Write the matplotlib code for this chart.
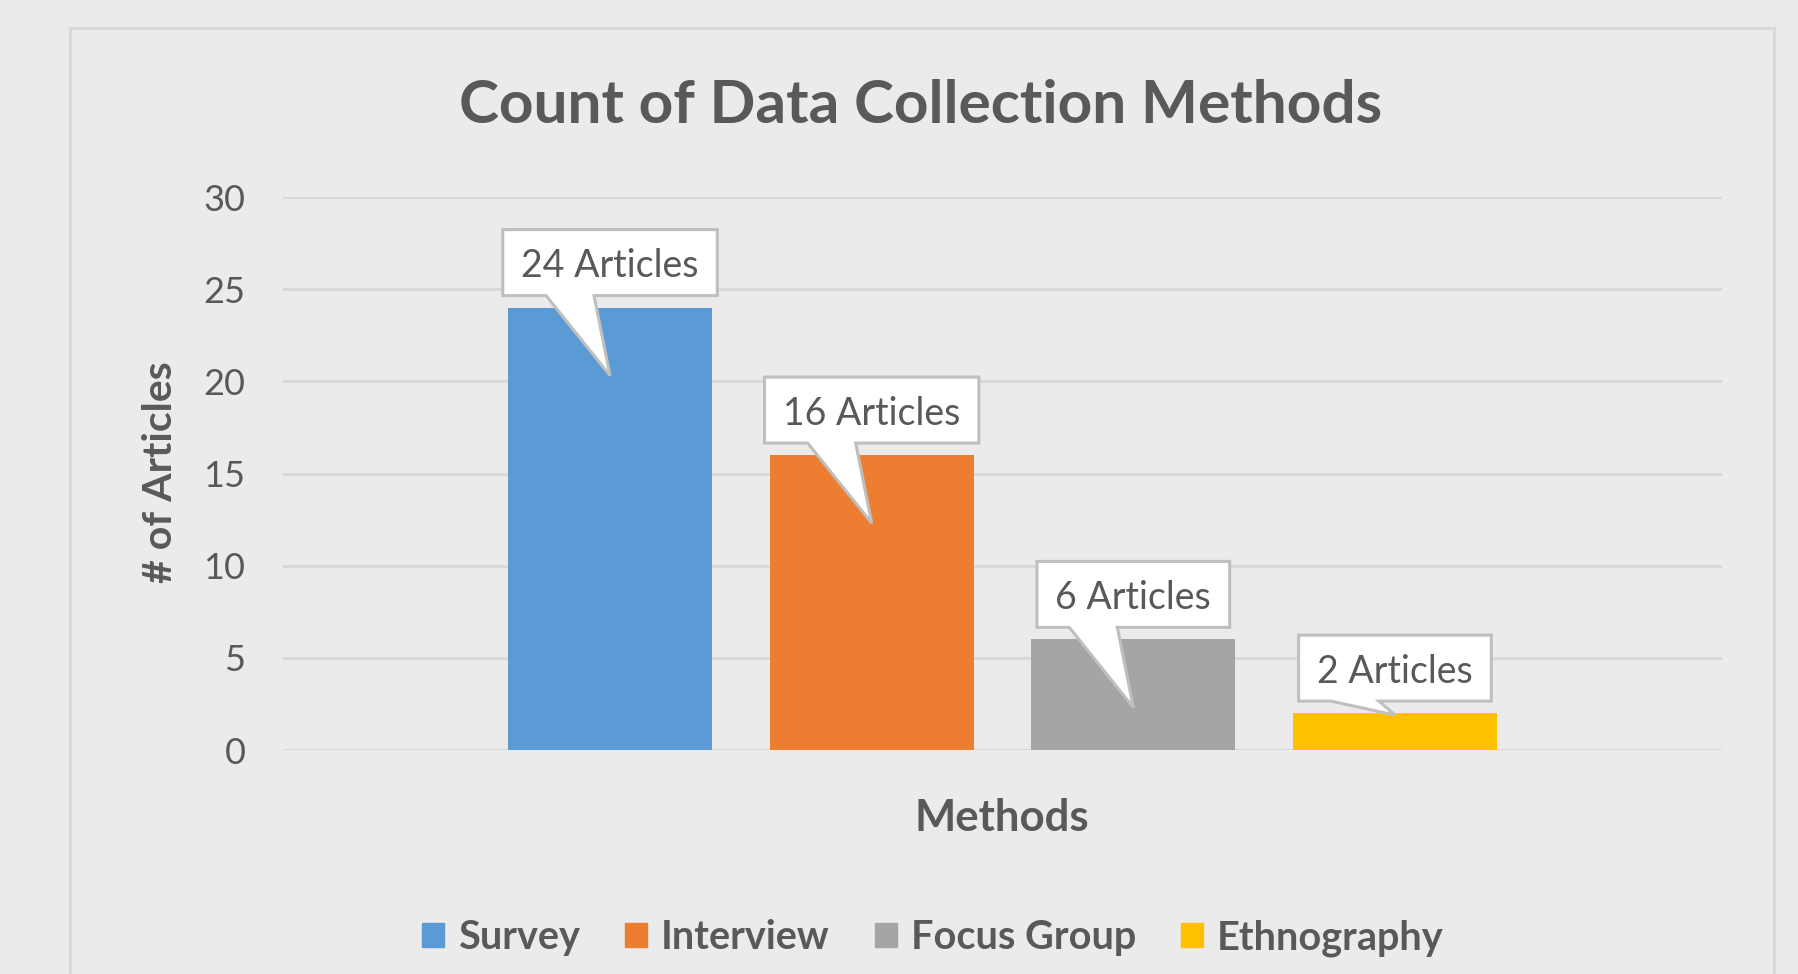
import matplotlib
matplotlib.use("Agg")
import matplotlib.pyplot as plt
from matplotlib.patches import Rectangle, Polygon
from matplotlib.transforms import IdentityTransform

# data
methods = ["Survey", "Interview", "Focus Group", "Ethnography"]
counts = [24, 16, 6, 2]
colors = ["#5B9BD5", "#ED7D31", "#A5A5A5", "#FFC000"]
yticks = [0, 5, 10, 15, 20, 25, 30]

plt.rcParams["font.family"] = ["Lato", "DejaVu Sans"]
TXT = "#595959"
BG = "#EBEBEB"

W, H = 1798, 974
fig = plt.figure(figsize=(W / 100, H / 100), dpi=100, facecolor=BG)

# outer chart border (pixel layout)
fig.patches.append(Rectangle((70, -20), 1704, H - 28 + 20, transform=IdentityTransform(),
                             fill=False, edgecolor="#D9D9D9", linewidth=2.2))

ax = fig.add_axes([283 / W, 1 - 750 / H, (1722 - 283) / W, (750 - 197) / H])
ax.set_facecolor(BG)

x = list(range(len(methods)))
ax.bar(x, counts, width=0.78, color=colors, zorder=2)
ax.set_xlim(-1.25, 4.25)
ax.set_ylim(0, 30)
ax.set_yticks(yticks)
ax.set_xticks([])
ax.tick_params(axis="y", length=0, pad=27, labelsize=26, labelcolor=TXT)
ax.grid(axis="y", color="#D9D9D9", linewidth=2.2, zorder=0)
for s in ax.spines.values():
    s.set_visible(False)

fig.text(921 / W, 1 - 106 / H, "Count of Data Collection Methods", ha="center", va="center",
         fontsize=43.5, fontweight="bold", color=TXT)
fig.text(1002 / W, 1 - 818 / H, "Methods", ha="center", va="center",
         fontsize=31.5, fontweight="bold", color=TXT)
fig.text(160 / W, 1 - 472 / H, "# of Articles", ha="center", va="center", rotation=90,
         fontsize=29.5, fontweight="bold", color=TXT)

# callout labels
texts = []
for xi, v in zip(x, counts):
    t = ax.annotate(f"{v} Articles", xy=(xi, v), xytext=(0, 45 * 0.72), textcoords="offset points",
                    ha="center", va="center_baseline", fontsize=27, color=TXT, zorder=6,
                    annotation_clip=False)
    texts.append(t)

fig.canvas.draw()
r = fig.canvas.get_renderer()
for t, xi, v in zip(texts, x, counts):
    bb = t.get_window_extent(r)
    cx, top = ax.transData.transform((xi, v))
    base = ax.transData.transform((xi, 0))[1]
    w = bb.width + 37
    L, R = cx - w / 2, cx + w / 2
    B = top + 12
    T = B + 66
    depth = min(68, max(0, (top - base) - 35))
    tip = (cx, top - depth)
    poly = Polygon([(L, T), (R, T), (R, B), (cx - 16, B), tip, (cx - 64, B), (L, B)], closed=True,
                   transform=IdentityTransform(), facecolor="white", edgecolor="#BFBFBF",
                   linewidth=2.2, zorder=4, clip_on=False)
    ax.add_patch(poly)

handles = [Rectangle((0, 0), 1, 1, color=c) for c in colors]
leg = fig.legend(handles, methods, loc="center", bbox_to_anchor=(933 / W, 1 - 938 / H), ncol=4,
                 frameon=False, handlelength=0.55, handleheight=0.55, handletextpad=0.35,
                 columnspacing=1.15, prop={"size": 28.5, "weight": "bold"})
for txt in leg.get_texts():
    txt.set_color(TXT)

fig.savefig("out.png", dpi=100, facecolor=BG)
